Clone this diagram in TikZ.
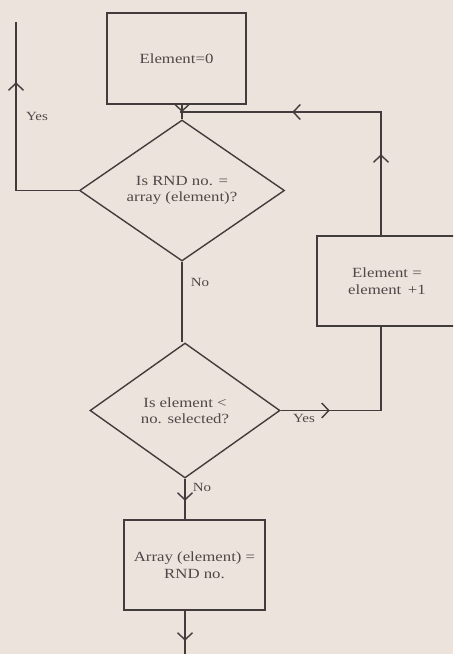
\documentclass[tikz,border=0pt]{standalone}
\usepackage{fontspec}
\setmainfont{Liberation Serif}[FakeStretch=1.2]
\usetikzlibrary{shapes.geometric,arrows.meta,decorations.markings}

\definecolor{fondo}{RGB}{236,228,220}
\definecolor{tinta}{RGB}{66,60,60}
\definecolor{letra}{RGB}{78,72,72}

\tikzset{
  caja/.style={draw=tinta, line width=1.4pt, minimum width=139pt, minimum height=91pt,
    align=center, text=letra, font=\fontsize{14}{16.5}\selectfont},
  rombo/.style={diamond, draw=tinta, line width=1.4pt, inner sep=0pt, align=center,
    text=letra, font=\fontsize{14}{16.5}\selectfont},
  linea/.style={draw=tinta, line width=1.4pt},
  etiqueta/.style={text=letra, font=\fontsize{12.5}{14}\selectfont, inner sep=0pt},
  flecha/.style={postaction={decorate, decoration={markings,
    mark=at position #1 with {\arrow[tinta, line width=1.4pt]{Straight Barb[length=7pt,width=15pt]}}}}}
}

\begin{document}
\begin{tikzpicture}[x=1pt, y=-1pt]
  % Fondo de la hoja
  \fill[fondo] (0,0) rectangle (453,654);
  \useasboundingbox (0,0) rectangle (453,654);
  \clip (0,0) rectangle (453,654);

  % Cajas y rombos
  \node[caja] (inicio) at (176.5,58.5) {Element=0};
  \node[rombo, minimum width=205pt, minimum height=141pt] (igual) at (182,190.5)
    {Is RND no. =\\ array (element)?};
  \node[caja, minimum width=140pt, minimum height=90pt] (suma) at (387,281)
    {Element =\\ element \,+1};
  \node[rombo, minimum width=190pt, minimum height=135pt] (menor) at (185,410.5)
    {Is element <\\ no. selected?};
  \node[caja, minimum width=141pt, minimum height=90pt] (guarda) at (194.5,565)
    {Array (element) =\\ RND no.};

  % Puntos auxiliares
  \coordinate (union) at (180,112);
  \coordinate (arriba) at (16,22);
  \coordinate (fin) at (185,660);
  \coordinate (sumaS) at ([xshift=-6pt]suma.south);
  \coordinate (sumaN) at ([xshift=-6pt]suma.north);

  % Conectores
  \draw[linea, flecha=0.5] (inicio.south -| igual.north) -- (igual.north);
  \draw[linea, flecha=171pt] (igual.west) -| (arriba);
  \draw[linea] (igual.south) -- (igual.south |- menor.north);
  \draw[linea, flecha=49pt] (menor.east) -| (sumaS);
  \draw[linea, flecha=81pt, flecha=212pt] (sumaN) |- (union);
  \draw[linea, flecha=22pt] (menor.south) -- (menor.south |- guarda.north);
  \draw[linea, flecha=30pt] (guarda.south -| menor.south) -- (fin);

  % Etiquetas
  \node[etiqueta] (si1) at (37,116) {Yes};
  \node[etiqueta] (no1) at (200,282) {No};
  \node[etiqueta] (si2) at (304,418) {Yes};
  \node[etiqueta] (no2) at (202,487) {No};
\end{tikzpicture}
\end{document}
